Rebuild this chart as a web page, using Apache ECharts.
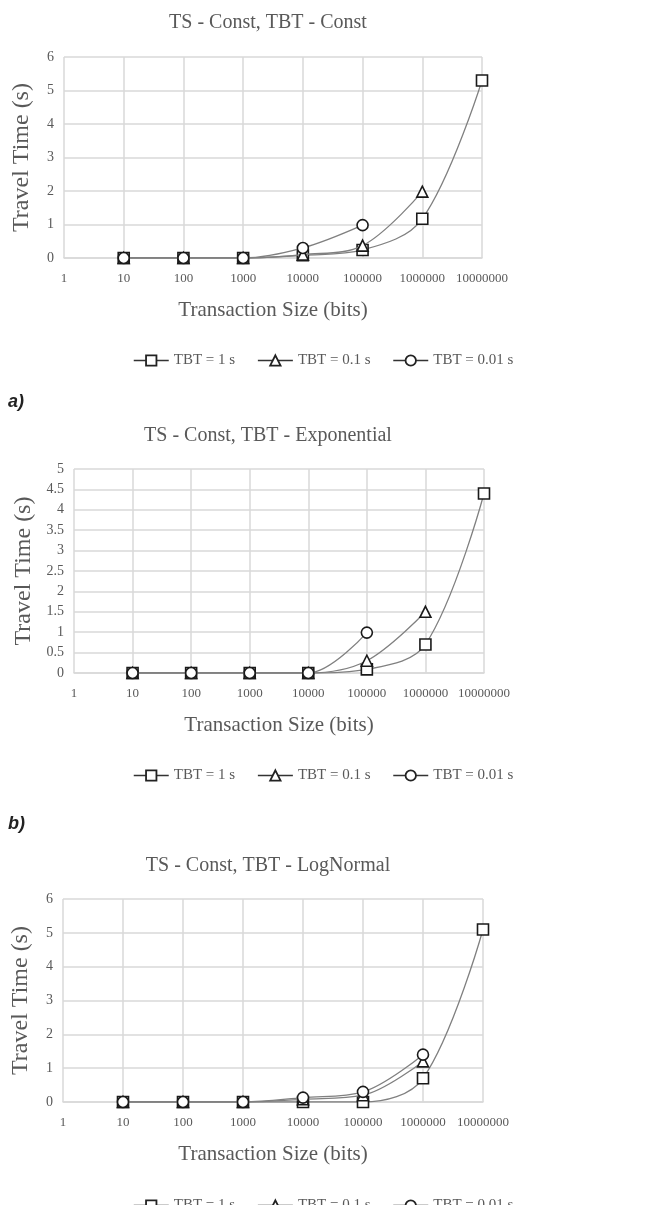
<!DOCTYPE html>
<html>
<head>
<meta charset="utf-8">
<script src="https://cdn.jsdelivr.net/npm/echarts@6/dist/echarts.min.js"></script>
<style>
html,body{margin:0;padding:0;background:#fff;}
#chart{width:653px;height:1205px;}
</style>
</head>
<body>
<div id="chart"></div>
<script>
// ---- Data ----
const xValues = [10, 100, 1000, 10000, 100000, 1000000, 10000000];
const seriesNames = ['TBT = 1 s', 'TBT = 0.1 s', 'TBT = 0.01 s'];
const chartTitles = ['TS - Const, TBT - Const', 'TS - Const, TBT - Exponential', 'TS - Const, TBT - LogNormal'];
const panelLabels = ['a)', 'b)'];
const xAxisTitle = 'Transaction Size (bits)';
const yAxisTitle = 'Travel Time (s)';

// Chart a: TBT constant
const constTbt1 = [0, 0, 0, 0.08, 0.24, 1.17, 5.3];
const constTbt01 = [0, 0, 0, 0.1, 0.37, 1.98];
const constTbt001 = [0, 0, 0, 0.3, 0.98];
// Chart b: TBT exponential
const expTbt1 = [0, 0, 0, 0, 0.09, 0.7, 4.4];
const expTbt01 = [0, 0, 0, 0, 0.3, 1.5];
const expTbt001 = [0, 0, 0, 0, 0.99];
// Chart c: TBT lognormal
const logTbt1 = [0, 0, 0, 0, 0, 0.7, 5.1];
const logTbt01 = [0, 0, 0, 0.08, 0.2, 1.2];
const logTbt001 = [0, 0, 0, 0.13, 0.3, 1.4];

const yMax = [6, 5, 6];
const yInterval = [1, 0.5, 1];

// ---- Layout ----
const grids = [
  {left: 64, right: 171, top: 57, height: 201},
  {left: 74, right: 169, top: 469, height: 204},
  {left: 63, right: 170, top: 899, height: 203}
];
const titleTops = [8, 421, 851];
const legendTops = [348, 763, 1193];

const serif = 'Liberation Serif';
const textGray = '#595959';
const gridGray = '#d9d9d9';
const symbols = ['rect', 'triangle', 'circle'];
const dataSets = [
  [constTbt1, constTbt01, constTbt001],
  [expTbt1, expTbt01, expTbt001],
  [logTbt1, logTbt01, logTbt001]
];

const option = {
  animation: false,
  backgroundColor: '#fff',
  title: chartTitles.map((t, i) => ({
    text: t, left: 263, top: titleTops[i], textAlign: 'center',
    textStyle: {fontFamily: serif, fontSize: 20, fontWeight: 'normal', color: textGray}
  })),
  graphic: panelLabels.map((t, i) => ({
    type: 'text', left: 8, top: [393, 815][i],
    style: {text: t, font: 'italic bold 18px "Liberation Sans"', fill: '#222'}
  })),
  legend: legendTops.map((top, i) => ({
    data: seriesNames, left: 128, top: top,
    itemWidth: 35, itemHeight: 13, itemGap: 22,
    textStyle: {fontFamily: serif, fontSize: 15, color: textGray},
    lineStyle: {color: '#333', width: 1.5},
    itemStyle: {borderColor: '#222', borderWidth: 1.8, color: '#fff'}
  })),
  grid: grids.map(g => Object.assign({containLabel: false}, g)),
  xAxis: grids.map((g, i) => ({
    type: 'log', logBase: 10, min: 1, max: 10000000, gridIndex: i,
    name: xAxisTitle, nameLocation: 'middle', nameGap: 42,
    nameTextStyle: {fontFamily: serif, fontSize: 21, color: textGray},
    axisLine: {show: true, lineStyle: {color: gridGray, width: 1.5}},
    axisTick: {show: false},
    splitLine: {show: true, lineStyle: {color: gridGray, width: 1.5}},
    minorTick: {show: false},
    axisLabel: {fontFamily: serif, fontSize: 13, color: textGray, margin: 14,
      formatter: v => String(Math.round(v))}
  })),
  yAxis: grids.map((g, i) => ({
    type: 'value', min: 0, max: yMax[i], interval: yInterval[i], gridIndex: i,
    name: yAxisTitle, nameLocation: 'middle', nameGap: 30,
    nameTextStyle: {fontFamily: serif, fontSize: 24, color: textGray},
    axisLine: {show: false},
    axisTick: {show: false},
    splitLine: {show: true, lineStyle: {color: gridGray, width: 1.5}},
    axisLabel: {fontFamily: serif, fontSize: 14, color: textGray, margin: 10}
  })),
  series: []
};

dataSets.forEach((set, gi) => {
  set.forEach((vals, si) => {
    option.series.push({
      type: 'line', name: seriesNames[si],
      xAxisIndex: gi, yAxisIndex: gi,
      data: vals.map((v, k) => [xValues[k], v]),
      smooth: 0.35,
      symbol: symbols[si],
      symbolSize: 11,
      showAllSymbol: true,
      lineStyle: {color: '#808080', width: 1.3},
      itemStyle: {color: '#fff', borderColor: '#1a1a1a', borderWidth: 1.6},
      z: 2 + si
    });
  });
});

const chart = echarts.init(document.getElementById('chart'), null, {renderer: 'canvas'});
chart.setOption(option);
</script>
</body>
</html>
